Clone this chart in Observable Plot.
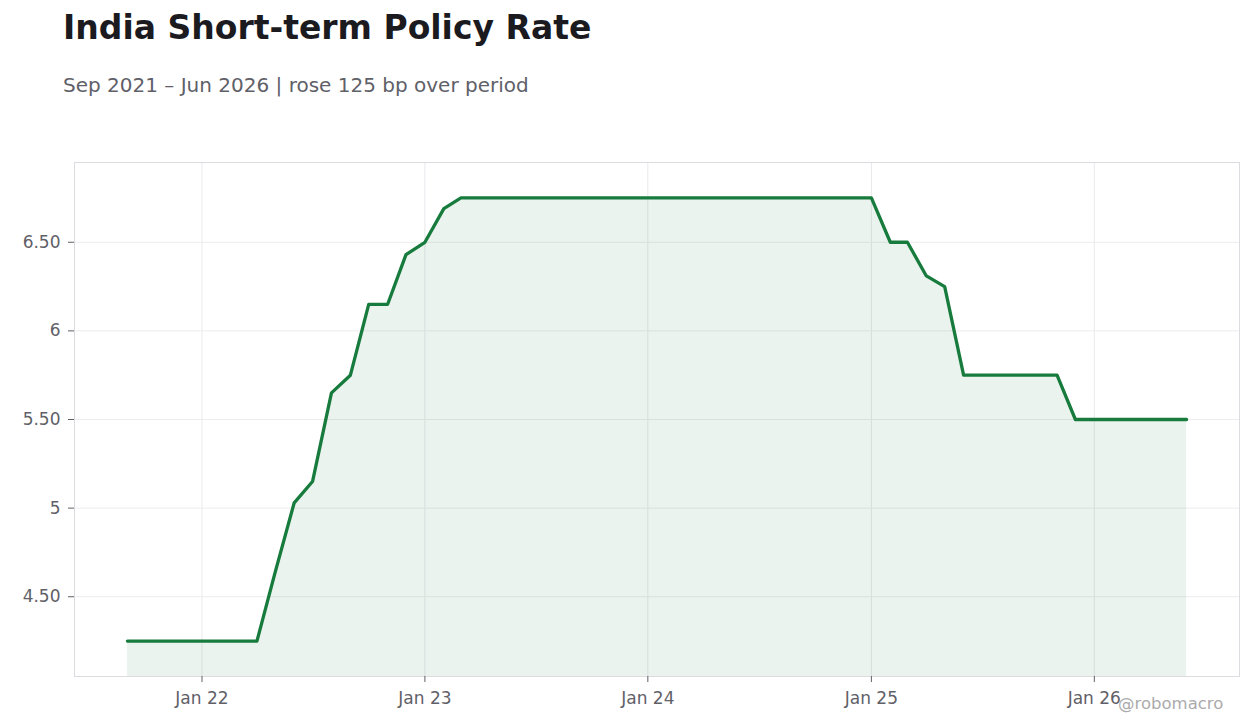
<!DOCTYPE html>
<html>
<head>
<meta charset="utf-8">
<script src="https://cdn.jsdelivr.net/npm/d3@7"></script>
<script src="https://cdn.jsdelivr.net/npm/@observablehq/plot@0.6"></script>
<style>
  html, body { margin: 0; padding: 0; background: #fff; }
  body { width: 1260px; height: 728px; position: relative; overflow: hidden; font-family: "DejaVu Sans", sans-serif; }
  #title { position: absolute; left: 63px; top: 8px; font-size: 33px; font-weight: bold; color: #1a1a1f; margin: 0; white-space: nowrap; }
  #subtitle { position: absolute; left: 63px; top: 73px; font-size: 20px; color: #5f6068; margin: 0; white-space: nowrap; }
  #chart { position: absolute; left: 0; top: 130px; }
  #credit { position: absolute; left: 1118px; top: 694px; font-size: 16.5px; color: #ababab; white-space: nowrap; }
</style>
</head>
<body>
<div id="title">India Short-term Policy Rate</div>
<div id="subtitle">Sep 2021 – Jun 2026 | rose 125 bp over period</div>
<div id="chart"></div>
<div id="credit">@robomacro</div>
<script>
const months = [
  "2021-09","2021-10","2021-11","2021-12",
  "2022-01","2022-02","2022-03","2022-04","2022-05","2022-06","2022-07","2022-08","2022-09","2022-10","2022-11","2022-12",
  "2023-01","2023-02","2023-03","2023-04","2023-05","2023-06","2023-07","2023-08","2023-09","2023-10","2023-11","2023-12",
  "2024-01","2024-02","2024-03","2024-04","2024-05","2024-06","2024-07","2024-08","2024-09","2024-10","2024-11","2024-12",
  "2025-01","2025-02","2025-03","2025-04","2025-05","2025-06","2025-07","2025-08","2025-09","2025-10","2025-11","2025-12",
  "2026-01","2026-02","2026-03","2026-04","2026-05","2026-06"
];
const rates = [
  4.25, 4.25, 4.25, 4.25,
  4.25, 4.25, 4.25, 4.25, 4.64, 5.03, 5.15, 5.65, 5.75, 6.15, 6.15, 6.43,
  6.50, 6.69, 6.75, 6.75, 6.75, 6.75, 6.75, 6.75, 6.75, 6.75, 6.75, 6.75,
  6.75, 6.75, 6.75, 6.75, 6.75, 6.75, 6.75, 6.75, 6.75, 6.75, 6.75, 6.75,
  6.75, 6.50, 6.50, 6.31, 6.25, 5.75, 5.75, 5.75, 5.75, 5.75, 5.75, 5.50,
  5.50, 5.50, 5.50, 5.50, 5.50, 5.50
];
const yTicks = [4.5, 5, 5.5, 6, 6.5];
const xTickLabels = ["2022-01", "2023-01", "2024-01", "2025-01", "2026-01"];

const parse = d3.utcParse("%Y-%m");
const data = months.map((m, i) => ({ date: parse(m), rate: rates[i] }));
const xTicks = xTickLabels.map(parse);

const t0 = data[0].date, t1 = data[data.length - 1].date;
const span = t1 - t0;
const xDomain = [new Date(+t0 - span * 0.05), new Date(+t1 + span * 0.05)];
const yMin = d3.min(rates), yMax = d3.max(rates);
const yPad = (yMax - yMin) * 0.08;
const yDomain = [yMin - yPad, yMax + yPad];

const fmtY = d => Number.isInteger(d) ? String(d) : d.toFixed(2);

const chart = Plot.plot({
  width: 1260,
  height: 598,
  marginLeft: 74,
  marginRight: 21,
  marginTop: 32,
  marginBottom: 52,
  style: { fontFamily: "DejaVu Sans, sans-serif", fontSize: "17px", color: "#5f6068", background: "#fff" },
  x: { type: "utc", domain: xDomain, label: null },
  y: { domain: yDomain, label: null },
  marks: [
    Plot.gridX(xTicks, { stroke: "#e9e9ec", strokeOpacity: 1 }),
    Plot.gridY(yTicks, { stroke: "#ececef", strokeOpacity: 1 }),
    Plot.areaY(data, { x: "date", y1: yDomain[0], y2: "rate", fill: "#1a7f3c", fillOpacity: 0.09 }),
    Plot.lineY(data, { x: "date", y: "rate", stroke: "#177b3d", strokeWidth: 3.3 }),
    Plot.frame({ stroke: "#dcdce0" }),
    Plot.axisX({ ticks: xTicks, tickFormat: d3.utcFormat("%b %y"), tickSize: 6, tickPadding: 9, stroke: "#5f6068", fontSize: 17 }),
    Plot.axisY({ ticks: yTicks, tickFormat: fmtY, tickSize: 6, tickPadding: 8, stroke: "#5f6068", fontSize: 17 })
  ]
});
document.getElementById("chart").appendChild(chart);
</script>
</body>
</html>
